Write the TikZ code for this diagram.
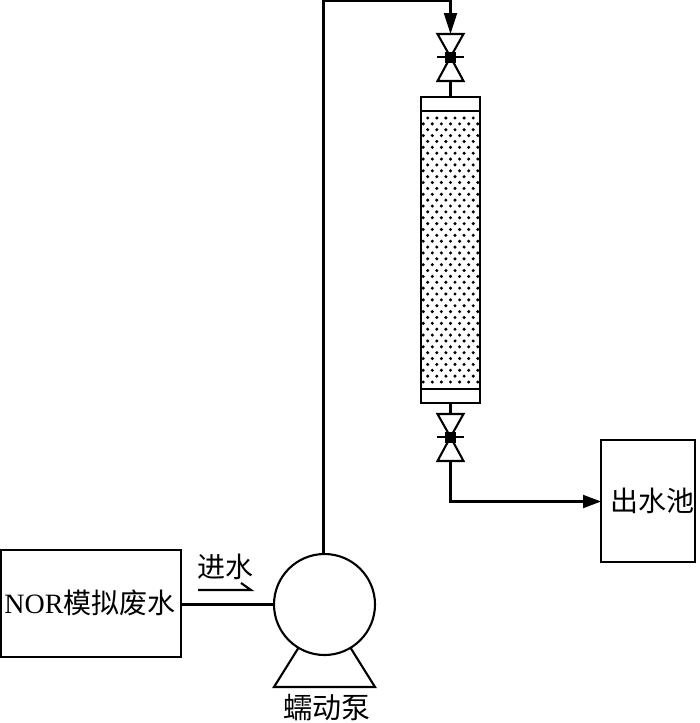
\documentclass[tikz,border=0pt]{standalone}
\usepackage{fontspec}
\setmainfont{Liberation Serif}
\newfontfamily\cjk{Noto Sans CJK SC}
\usetikzlibrary{arrows.meta}
\tikzset{
  x=1pt,y=-1pt,
  ln/.style={line width=2.1pt,line join=miter},
  boxn/.style={draw,line width=2.1pt,inner sep=0pt,outer sep=0pt,anchor=north west},
  lab/.style={inner sep=0pt,font=\fontsize{28}{30}\selectfont},
  cjklab/.style={inner sep=0pt,font=\fontsize{28}{30}\selectfont\cjk},
  flow/.style={ln,-{Triangle[length=18pt,width=13pt]}},
  valvetri/.style={ln,fill=white,line join=miter},
  crossbar/.style={line width=1.7pt},
  valvecore/.style={fill=black,minimum size=11pt,inner sep=0pt},
}
\begin{document}
\begin{tikzpicture}
\useasboundingbox (0,0) rectangle (700,723);
% column
\node[boxn,minimum width=59pt,minimum height=306pt] (col) at (421,97) {};
\coordinate (dt) at (421,111); \coordinate (dtr) at (480,111);
\coordinate (db) at (421,389); \coordinate (dbr) at (480,389);
\draw[ln] (dt) -- (dtr);
\draw[ln] (db) -- (dbr);
% packing dots
\foreach \r in {0,...,45}{
  \pgfmathsetmacro{\yy}{118+\r*5.867}
  \pgfmathsetmacro{\off}{mod(\r,2)==0 ? 427.7 : 423.2}
  \foreach \c in {0,...,6}{
    \pgfmathsetmacro{\xx}{\off+\c*9.1}
    \ifdim\xx pt<478pt
      \fill (\xx,\yy) circle (1.7pt);
    \fi
  }
}
% top valve
\coordinate (tvTop) at (450.5,34);
\coordinate (tvC) at (450.5,57);
\coordinate (tvBot) at (450.5,81);
\draw[valvetri] (437.5,34) -- (463.5,34) -- (tvC) -- cycle;
\draw[valvetri] (437.5,81) -- (463.5,81) -- (tvC) -- cycle;
\draw[crossbar] (437,57) -- (464,57);
\node[valvecore] (tv) at (tvC) {};
% bottom valve
\coordinate (bvTop) at (450.5,414);
\coordinate (bvC) at (450.5,437);
\coordinate (bvBot) at (450.5,461);
\draw[valvetri] (437.5,414) -- (463.5,414) -- (bvC) -- cycle;
\draw[valvetri] (437.5,461) -- (463.5,461) -- (bvC) -- cycle;
\draw[crossbar] (437,437) -- (464,437);
\node[valvecore] (bv) at (bvC) {};
% boxes
\node[boxn,minimum width=94pt,minimum height=122pt] (pool) at (601,440) {};
\node[cjklab] (poollab) at (652,501) {出水池};
\node[boxn,minimum width=180pt,minimum height=107pt] (tank) at (1,550) {};
\node[lab] (tanklab) at (90,603) {NOR{\cjk 模拟废水}};
% pump
\node[draw,circle,line width=2.1pt,outer sep=0pt,minimum size=101pt,inner sep=0pt] (pump) at (324.5,604.5) {};
\coordinate (fl) at (274,687);
\coordinate (fr) at (375,687);
\draw[ln] (pump.239) -- (fl) -- (fr) -- (pump.301);
\node[cjklab,font=\fontsize{29}{30}\selectfont\cjk] (pumplab) at (327,708) {蠕动泵};
% pipes
\draw[ln] (tank.east |- pump.west) -- (pump.west);
\coordinate (corner) at (323.5,0.5);
\coordinate (tvIn) at (450.5,0.5);
\draw[ln,-{Triangle[length=21pt,width=13pt]}] (pump.north -| corner) -- (corner) -- (tvIn) -- (tvTop);
\draw[ln] (tvBot) -- (col.north -| tvBot);
\draw[ln] (col.south -| bvTop) -- (bvTop);
\coordinate (bend) at (450.5,501.5);
\draw[flow] (bvBot) -- (bend) -- (pool.west |- bend);
% inlet label
\node[cjklab] (inlab) at (225,567) {进水};
\coordinate (ha) at (198,590);
\coordinate (hb) at (251,590);
\coordinate (hc) at (241,583);
\draw[ln] (ha) -- (hb) -- (hc);
\end{tikzpicture}
\end{document}
